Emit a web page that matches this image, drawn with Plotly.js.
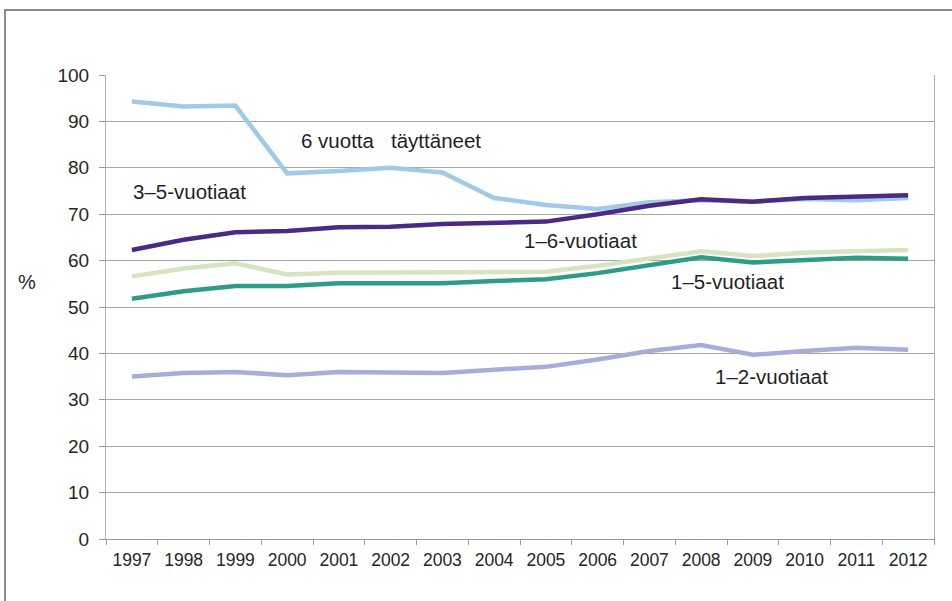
<!DOCTYPE html>
<html>
<head>
<meta charset="utf-8">
<script src="https://cdn.plot.ly/plotly-3.0.1.min.js"></script>
<style>
html,body{margin:0;padding:0;background:#fff;overflow:hidden;}
#frame{position:absolute;left:4px;top:9px;width:1000px;height:700px;border-left:2px solid #8c8c8c;border-top:2px solid #8c8c8c;}
#chart{position:absolute;left:0;top:0;width:952px;height:601px;}
</style>
</head>
<body>
<div id="frame"></div>
<div id="chart"></div>
<script>
const years = ["1997","1998","1999","2000","2001","2002","2003","2004","2005","2006","2007","2008","2009","2010","2011","2012"];
const kuusiVuotta = [94.3,93.2,93.4,78.8,79.3,80.0,79.0,73.5,72.0,71.1,72.6,73.0,72.7,73.3,73.0,73.5];
const v3_5 = [62.3,64.5,66.1,66.4,67.2,67.3,67.9,68.1,68.4,70.0,71.8,73.2,72.7,73.5,73.7,74.1];
const v1_6 = [56.6,58.3,59.4,57.0,57.4,57.4,57.4,57.4,57.6,58.9,60.4,62.0,61.0,61.7,62.0,62.3];
const v1_5 = [51.8,53.4,54.5,54.5,55.1,55.1,55.1,55.6,56.0,57.3,59.0,60.7,59.6,60.2,60.6,60.4];
const v1_2 = [35.0,35.8,36.0,35.3,36.0,36.0,35.8,36.5,37.1,38.7,40.5,41.8,39.7,40.5,41.2,40.8];
const labels = ["6 vuotta\u00a0\u00a0 täyttäneet","3–5-vuotiaat","1–6-vuotiaat","1–5-vuotiaat","1–2-vuotiaat"];
const yTicks = [0,10,20,30,40,50,60,70,80,90,100];

function tr(y, color, name){
  return {x: years, y: y, type:'scatter', mode:'lines', name:name,
          line:{color:color, width:4.5, shape:'linear'}, hoverinfo:'x+y'};
}
const data = [
  tr(v1_2, '#A7ADD8', labels[4]),
  tr(v1_5, '#2F9C88', labels[3]),
  tr(v1_6, '#D6E4BF', labels[2]),
  tr(kuusiVuotta, '#9FCBE8', labels[0]),
  tr(v3_5, '#4A2A84', labels[1])
];
const annFont = {family:'Liberation Sans, Arial, sans-serif', size:20.5, color:'#1f1f1f'};
const layout = {
  width:952, height:601,
  margin:{l:106, r:18, t:75, b:62},
  paper_bgcolor:'rgba(0,0,0,0)', plot_bgcolor:'rgba(0,0,0,0)',
  showlegend:false,
  font:{family:'Liberation Sans, Arial, sans-serif', size:17, color:'#262626'},
  xaxis:{type:'category', range:[-0.5, years.length-0.5], tickson:'boundaries', ticks:'outside', ticklen:5, tickcolor:'#9a9a9a',
         showgrid:false, showline:true, linecolor:'#9a9a9a', linewidth:1, zeroline:false,
         tickfont:{size:17.5, color:'#262626'}, ticklabelstandoff:5, fixedrange:true},
  yaxis:{range:[0,100], tickvals:yTicks, ticks:'outside', ticklen:6, tickcolor:'#9a9a9a',
         showgrid:true, gridcolor:'#a6a6a6', gridwidth:1, showline:true, mirror:true,
         linecolor:'#b0b0b0', linewidth:1, zeroline:false, tickfont:{size:19, color:'#262626'},
         ticklabelstandoff:6, fixedrange:true},
  annotations:[
    {xref:'x', yref:'y', x:3.22, y:85.8, text:labels[0], showarrow:false, xanchor:'left', yanchor:'middle', font:annFont},
    {xref:'x', yref:'y', x:-0.02, y:74.8, text:labels[1], showarrow:false, xanchor:'left', yanchor:'middle', font:annFont},
    {xref:'x', yref:'y', x:7.53, y:64.4, text:labels[2], showarrow:false, xanchor:'left', yanchor:'middle', font:annFont},
    {xref:'x', yref:'y', x:10.38, y:55.4, text:labels[3], showarrow:false, xanchor:'left', yanchor:'middle', font:annFont},
    {xref:'x', yref:'y', x:11.23, y:35.1, text:labels[4], showarrow:false, xanchor:'left', yanchor:'middle', font:annFont},
    {xref:'paper', yref:'paper', x:-0.0955, y:0.554, text:'%', showarrow:false, xanchor:'center', yanchor:'middle', font:{size:20, color:'#262626'}}
  ]
};
Plotly.newPlot('chart', data, layout, {displayModeBar:false, staticPlot:true});
</script>
</body>
</html>
